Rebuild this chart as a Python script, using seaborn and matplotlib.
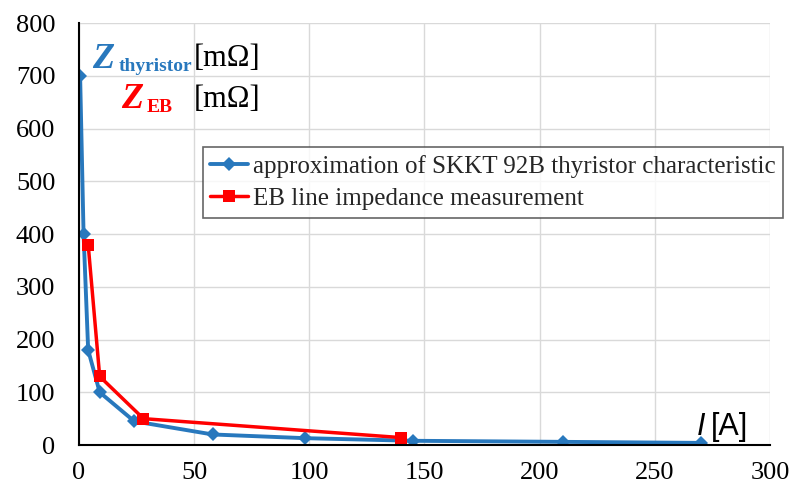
import matplotlib
matplotlib.use('Agg')
import matplotlib.pyplot as plt
import seaborn as sns
import pandas as pd

# thyristor approximation (blue) and EB line measurement (red)
thy_current = [0.5, 2, 4, 9, 24, 58, 98, 145, 210, 270]
thy_impedance = [700, 400, 180, 100, 45, 20, 13, 8, 6, 4]
eb_current = [4, 9, 28, 140]
eb_impedance = [380, 130, 50, 14]

blue = '#2878BD'
red = '#FF0000'
serif = 'Liberation Serif'

sns.set_style('white')
plt.rcParams['font.family'] = [serif, 'DejaVu Serif']

thy = pd.DataFrame({'I': thy_current, 'Z': thy_impedance})
eb = pd.DataFrame({'I': eb_current, 'Z': eb_impedance})

fig = plt.figure(figsize=(7.92, 4.92), dpi=100)
ax = fig.add_axes([0.0997, 0.0955, 0.8725, 0.8575])

sns.lineplot(data=thy, x='I', y='Z', ax=ax, color=blue, lw=2.8, marker='D',
             markersize=7, markeredgewidth=0,
             label='approximation of SKKT 92B thyristor characteristic')
sns.lineplot(data=eb, x='I', y='Z', ax=ax, color=red, lw=2.5, marker='s',
             markersize=8, markeredgewidth=0,
             label='EB line impedance measurement')

ax.set_xlim(0, 300)
ax.set_ylim(0, 800)
ax.set_xticks(range(0, 301, 50))
ax.set_yticks(range(0, 801, 100))
ax.grid(True, color='#d9d9d9', lw=1)
ax.set_axisbelow(True)
for s in ['top', 'right']:
    ax.spines[s].set_visible(False)
for s in ['left', 'bottom']:
    ax.spines[s].set_color('black')
    ax.spines[s].set_linewidth(1.5)
ax.tick_params(axis='both', direction='out', length=7, width=1.5, labelsize=19,
               colors='black', pad=5)
ax.tick_params(axis='y', pad=10)
ax.set_xlabel('')
ax.set_ylabel('')

leg = ax.legend(loc='upper left', bbox_to_anchor=(0.179, 0.706), fontsize=18,
                frameon=True, fancybox=False, handlelength=1.5, handletextpad=0.2,
                borderpad=0.3, labelspacing=0.4, borderaxespad=0)
leg.get_frame().set_edgecolor('#404040')
leg.get_frame().set_linewidth(1.2)

# axis titles as free text, like in the original
fig.text(0.116, 0.862, 'Z', color=blue, fontsize=26, fontweight='bold', style='italic')
fig.text(0.150, 0.855, 'thyristor', color=blue, fontsize=14, fontweight='bold')
fig.text(0.245, 0.865, '[m\u03a9]', color='black', fontsize=22)
fig.text(0.153, 0.780, 'Z', color=red, fontsize=26, fontweight='bold', style='italic')
fig.text(0.185, 0.773, 'EB', color=red, fontsize=14, fontweight='bold')
fig.text(0.245, 0.782, '[m\u03a9]', color='black', fontsize=22)
fig.text(0.880, 0.115, 'I', color='black', fontsize=22, style='italic', family='Liberation Sans')
fig.text(0.897, 0.115, '[A]', color='black', fontsize=22, family='Liberation Sans')

fig.savefig('out.png', dpi=100)
